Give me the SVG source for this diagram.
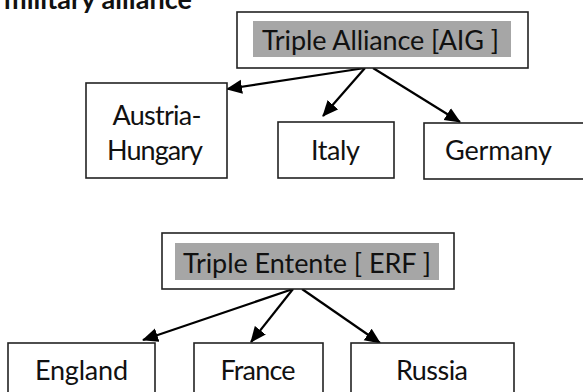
<svg xmlns="http://www.w3.org/2000/svg" width="583" height="392" viewBox="0 0 583 392">
<style>
text{font-family:Lato,"Open Sans","Liberation Sans",sans-serif;font-size:27px;fill:#111}
.t{text-anchor:middle}
.box{fill:#fff;stroke:#222;stroke-width:1.6}
.hl{fill:#a6a6a6}
.c{stroke:#000;stroke-width:2.2;fill:none;marker-end:url(#ah)}
</style>
<defs>
<marker id="ah" markerUnits="userSpaceOnUse" markerWidth="18" markerHeight="16" refX="15" refY="7" orient="auto">
<path d="M0,0 L16,7 L0,14 Z" fill="#000"/>
</marker>
</defs>
<rect width="583" height="392" fill="#fff"/>
<text x="192" y="9" style="text-anchor:end;font-weight:bold" textLength="188">military alliance</text>
<g id="connectors">
<line class="c" x1="365" y1="68" x2="227" y2="89"/>
<line class="c" x1="365" y1="68" x2="323" y2="116"/>
<line class="c" x1="373" y1="68" x2="460" y2="122"/>
<line class="c" x1="293" y1="289" x2="143" y2="340"/>
<line class="c" x1="293" y1="289" x2="251" y2="342"/>
<line class="c" x1="302" y1="289" x2="380" y2="343"/>
</g>
<g id="triple-alliance">
<rect class="box" x="237" y="12" width="291" height="56"/>
<rect class="hl" x="253" y="21" width="258" height="36"/>
<text x="262" y="50" textLength="237">Triple Alliance [AIG ]</text>
</g>
<g id="austria-hungary">
<rect class="box" x="86" y="83" width="141" height="95"/>
<text class="t" x="157" y="125" textLength="89">Austria-</text>
<text class="t" x="155" y="160" textLength="96">Hungary</text>
</g>
<g id="italy">
<rect class="box" x="278" y="122" width="116" height="56"/>
<text x="311" y="160" textLength="49">Italy</text>
</g>
<g id="germany">
<rect class="box" x="424" y="123" width="170" height="56"/>
<text x="445" y="160" textLength="107">Germany</text>
</g>
<g id="triple-entente">
<rect class="box" x="162" y="233" width="292" height="56"/>
<rect class="hl" x="175" y="243" width="264" height="37"/>
<text x="183" y="273" textLength="248">Triple Entente [ ERF ]</text>
</g>
<g id="england">
<rect class="box" x="8" y="343" width="147" height="60"/>
<text x="35" y="380" textLength="93">England</text>
</g>
<g id="france">
<rect class="box" x="194" y="343" width="129" height="60"/>
<text class="t" x="258" y="380" textLength="75">France</text>
</g>
<g id="russia">
<rect class="box" x="351" y="343" width="163" height="60"/>
<text class="t" x="432" y="380" textLength="72">Russia</text>
</g>
</svg>
